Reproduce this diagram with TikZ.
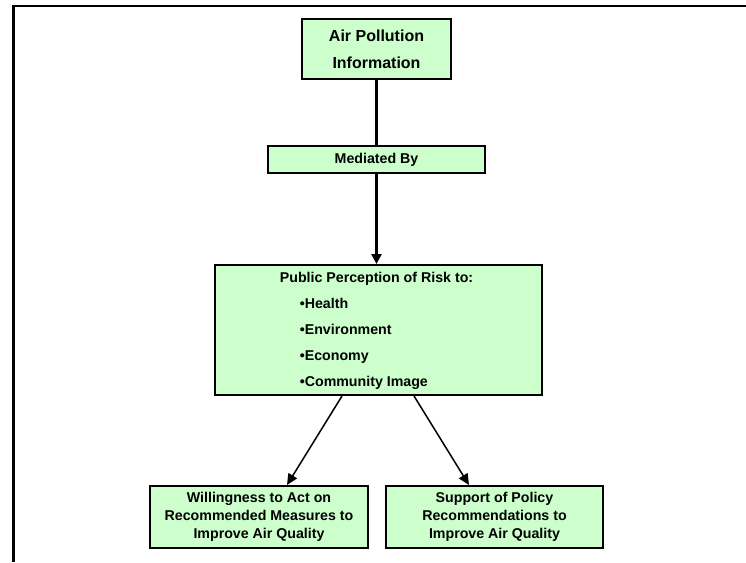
\documentclass[tikz,border=0pt]{standalone}
\usepackage{fontspec}
\setmainfont{Liberation Sans}
\usetikzlibrary{arrows.meta}
\definecolor{boxgreen}{HTML}{CCFFCC}
\begin{document}
\begin{tikzpicture}[x=1pt,y=-1pt,
  box/.style={draw=black, line width=2pt, fill=boxgreen, inner sep=0pt, align=center,
    font=\bfseries\fontsize{14.2}{18}\selectfont},
  frameline/.style={line width=2.5pt},
  thickline/.style={line width=3.5pt},
  thickarrow/.style={line width=3.5pt, -{Triangle[length=10pt,width=10pt]}},
  thinarrow/.style={line width=1.5pt, -{Triangle[length=11pt,width=10pt]}}]
\useasboundingbox (0,0) rectangle (746,562);
% frame
\coordinate (fbl) at (13.5,562);
\coordinate (ftl) at (13.5,6);
\coordinate (ftr) at (746,6);
\draw[frameline] (fbl) -- (ftl) -- (ftr);
% boxes
\node[box, minimum width=149pt, minimum height=60pt,
  font=\bfseries\fontsize{16}{27}\selectfont] (air) at (376.5,49) {Air Pollution\\Information};
\node[box, minimum width=217pt, minimum height=27pt] (med) at (376.5,159.5) {Mediated By};
\node[box, minimum width=327pt, minimum height=130pt] (pub) at (378.5,330) {};
\node[align=left, inner sep=0pt, font=\bfseries\fontsize{14.2}{26}\selectfont] (pubtxt) at (376.5,330.5)
  {Public Perception of Risk to:\\
   \hspace*{20pt}•Health\\
   \hspace*{20pt}•Environment\\
   \hspace*{20pt}•Economy\\
   \hspace*{20pt}•Community Image};
\node[box, minimum width=218pt, minimum height=62pt] (lb) at (259,517)
  {Willingness to Act on\\Recommended Measures to\\Improve Air Quality};
\node[box, minimum width=217pt, minimum height=62pt] (rb) at (494.5,517)
  {Support of Policy\\Recommendations to\\Improve Air Quality};
% connectors
\draw[thickline] (air) -- (med);
\draw[thickarrow] (med) -- (med |- pub.north);
\draw[thinarrow] ([xshift=-36.5pt]pub.south) -- ([xshift=28pt]lb.north);
\draw[thinarrow] ([xshift=35.5pt]pub.south) -- ([xshift=-25.5pt]rb.north);
\end{tikzpicture}
\end{document}
